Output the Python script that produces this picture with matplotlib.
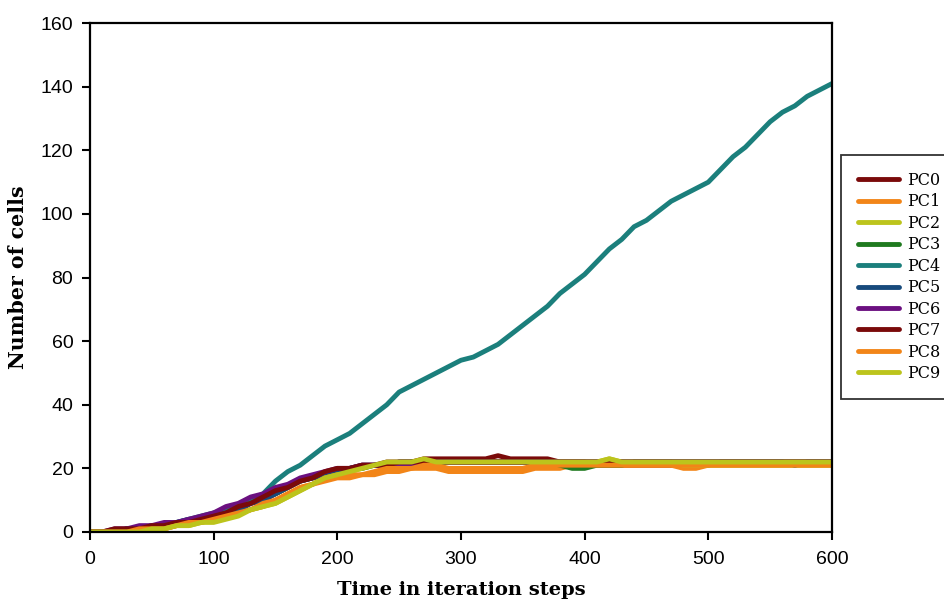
import numpy as np
import matplotlib
matplotlib.use("Agg")
import matplotlib.pyplot as plt

# iteration steps (every 10 steps)
steps = list(range(0, 601, 10))

pc0 = [0, 0, 0, 1, 1, 1, 2, 2, 3, 4, 5, 6, 7, 9, 10, 12, 14, 16, 17, 18, 19,
       20, 21, 21, 22, 22, 22, 23, 23, 23, 23, 23, 23, 24, 23, 23, 23, 23, 22, 22,
       22, 21, 21, 21, 21, 21, 21, 21, 21, 21, 21, 22, 22, 22, 22, 22, 22, 22, 22, 22, 22]
pc1 = [0, 0, 0, 0, 0, 1, 1, 2, 3, 3, 4, 5, 6, 7, 8, 10, 12, 14, 15, 16, 17,
       17, 18, 18, 19, 19, 20, 20, 20, 19, 19, 19, 19, 19, 19, 19, 20, 20, 20, 21,
       21, 21, 21, 21, 21, 21, 21, 21, 20, 20, 21, 21, 21, 21, 21, 21, 21, 21, 21, 21, 21]
pc2 = [0, 0, 0, 0, 1, 1, 1, 2, 2, 3, 4, 5, 6, 7, 8, 9, 11, 13, 15, 17, 18,
       19, 20, 21, 21, 21, 21, 22, 22, 22, 22, 22, 22, 22, 22, 22, 22, 22, 22, 22,
       22, 22, 23, 22, 22, 22, 22, 22, 21, 21, 21, 21, 21, 21, 21, 21, 21, 21, 21, 21, 21]
pc3 = [0, 0, 0, 1, 1, 1, 2, 3, 3, 4, 5, 6, 8, 9, 11, 12, 14, 16, 17, 18, 19,
       20, 20, 21, 21, 21, 22, 22, 22, 22, 22, 22, 22, 22, 22, 22, 22, 22, 21, 20,
       20, 21, 21, 21, 22, 22, 22, 22, 22, 22, 22, 22, 22, 22, 22, 22, 22, 22, 22, 22, 22]
pc4 = [0, 0, 0, 1, 1, 2, 2, 3, 4, 5, 6, 7, 8, 10, 12, 16, 19, 21, 24, 27, 29,
       31, 34, 37, 40, 44, 46, 48, 50, 52, 54, 55, 57, 59, 62, 65, 68, 71, 75, 78,
       81, 85, 89, 92, 96, 98, 101, 104, 106, 108, 110, 114, 118, 121, 125, 129, 132, 134, 137, 139, 141]
pc5 = [0, 0, 0, 1, 1, 2, 2, 3, 4, 4, 5, 6, 7, 9, 10, 12, 14, 16, 17, 18, 19,
       20, 21, 21, 21, 22, 22, 22, 22, 22, 22, 22, 22, 22, 22, 22, 22, 22, 22, 22,
       22, 22, 22, 22, 22, 22, 22, 22, 22, 22, 22, 22, 22, 22, 22, 22, 22, 21, 22, 22, 22]
pc6 = [0, 0, 1, 1, 2, 2, 3, 3, 4, 5, 6, 8, 9, 11, 12, 14, 15, 17, 18, 19, 20,
       20, 21, 21, 21, 21, 21, 22, 22, 22, 22, 22, 22, 22, 22, 22, 22, 22, 22, 22,
       22, 22, 22, 22, 22, 22, 22, 22, 22, 22, 22, 22, 22, 22, 22, 22, 22, 22, 22, 22, 22]
pc7 = [0, 0, 1, 1, 1, 2, 2, 3, 3, 4, 5, 6, 8, 9, 11, 13, 14, 16, 17, 19, 20,
       20, 21, 21, 21, 22, 22, 22, 22, 22, 22, 22, 22, 22, 22, 22, 22, 22, 22, 22,
       22, 22, 22, 22, 22, 22, 22, 22, 22, 22, 22, 22, 22, 22, 22, 22, 22, 22, 22, 22, 22]
pc8 = [0, 0, 0, 0, 1, 1, 1, 2, 3, 3, 4, 5, 6, 7, 9, 10, 12, 14, 15, 17, 18,
       18, 18, 19, 20, 20, 20, 21, 21, 20, 20, 20, 20, 20, 20, 20, 21, 21, 21, 21,
       21, 21, 21, 21, 21, 21, 21, 21, 21, 21, 21, 21, 21, 21, 21, 21, 21, 21, 21, 21, 21]
pc9 = [0, 0, 0, 0, 0, 1, 1, 2, 2, 3, 3, 4, 5, 7, 8, 9, 11, 13, 15, 17, 18,
       19, 20, 21, 22, 22, 22, 23, 22, 22, 22, 22, 22, 22, 22, 22, 22, 22, 22, 22,
       22, 22, 23, 22, 22, 22, 22, 22, 22, 22, 22, 22, 22, 22, 22, 22, 22, 22, 22, 22, 22]

labels = ["PC0", "PC1", "PC2", "PC3", "PC4", "PC5", "PC6", "PC7", "PC8", "PC9"]
series = [pc0, pc1, pc2, pc3, pc4, pc5, pc6, pc7, pc8, pc9]
colors = ["#7a0a0a", "#f28518", "#bcc41c", "#1f7a1f", "#1b7f7c",
          "#174a7c", "#6b1080", "#7a0a0a", "#f28518", "#bcc41c"]

fig = plt.figure(figsize=(9.44, 6.05), dpi=100)
ax = fig.add_axes([0.0953, 0.1207, 0.786, 0.841])

for name, vals, c in zip(labels, series, colors):
    ax.plot(steps, vals, color=c, lw=3.5, label=name, solid_capstyle="round")

ax.set_xlim(0, 600)
ax.set_ylim(0, 160)
ax.set_xticks(range(0, 601, 100))
ax.set_yticks(range(0, 161, 20))

for lab in ax.get_xticklabels() + ax.get_yticklabels():
    lab.set_fontfamily("Liberation Sans")
    lab.set_fontsize(14)

ax.tick_params(direction="out", length=6, width=1.5, top=False, right=False)
ax.tick_params(axis="x", pad=8)
ax.tick_params(axis="y", pad=6)
for sp in ax.spines.values():
    sp.set_linewidth(1.6)

ax.set_xlabel("Time in iteration steps", fontfamily="DejaVu Serif",
              fontweight="bold", fontsize=14, labelpad=9)
ax.set_ylabel("Number of cells", fontfamily="DejaVu Serif",
              fontweight="bold", fontsize=14.8, labelpad=9)

leg = ax.legend(loc="upper left", bbox_to_anchor=(0.8909, 0.7438),
                bbox_transform=fig.transFigure, frameon=True, fancybox=False,
                prop={"family": "DejaVu Serif", "size": 11.5},
                handlelength=2.6, labelspacing=0.28, borderpad=1.05,
                handletextpad=0.5, borderaxespad=0)
leg.get_frame().set_edgecolor("black")
leg.get_frame().set_linewidth(1.3)
for line in leg.get_lines():
    line.set_linewidth(3.5)

fig.savefig("out.png", dpi=100)
